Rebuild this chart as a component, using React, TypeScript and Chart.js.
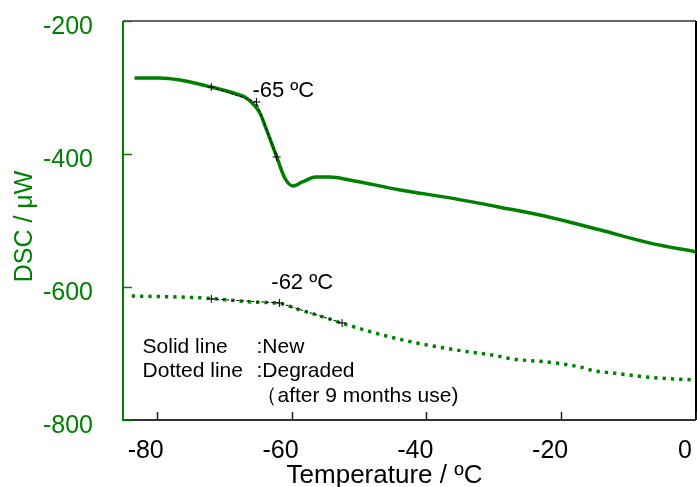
import React, { useEffect, useRef } from 'react';
import { Chart, registerables } from 'chart.js';

Chart.register(...registerables);

const GREEN = '#008000';
const FONT = '"Liberation Sans", Arial, sans-serif';

const xTicks = [-80, -60, -40, -20, 0];
const yTicks = [-800, -600, -400, -200];

// Solid line: New
const newTemps = [-83.3, -79.6, -76.6, -71.9, -67.7, -66.7, -64.7, -63.7, -62.2, -61.0, -59.8, -58.4, -56.4, -54.3, -51.4, -43.9, -36.5, -29.1, -21.7, -14.3, -6.8, 0];
const newDsc = [-285.7, -285.7, -288.7, -299.3, -311.3, -315.8, -338.3, -363.9, -404.5, -436.1, -448.1, -442.1, -434.6, -434.6, -439, -454, -466, -480, -495, -514, -534, -547];

// Dotted line: Degraded
const degTemps = [-83.7, -76.6, -72.2, -65.8, -61.5, -59.2, -56.2, -52.1, -46.5, -41.4, -35.5, -29.4, -27.2, -22.1, -17.2, -15.0, -12.3, -7.3, 0];
const degDsc = [-613.6, -615.1, -617, -622.6, -625.2, -633.1, -642.1, -655.7, -672.2, -684.2, -694.8, -703.8, -708.3, -712.8, -720.3, -726.3, -729.3, -735.4, -740];

// Onset tangent construction lines
const newTangentTemps = [-71.9, -65.2, -62.2];
const newTangentDsc = [-299.3, -321.8, -404.5];
const degTangentTemps = [-71.9, -61.8, -52.5];
const degTangentDsc = [-618, -624, -654.1];

// Text annotations (anchored in data coordinates)
const onsetTexts = ['-65 ºC', '-62 ºC'];
const onsetTemps = [-65.8, -63.0];
const onsetDsc = [-314, -603];

const legendKeys = ['Solid line', 'Dotted line', ''];
const legendValues = [':New', ':Degraded', '（after 9 months use)'];
const legendKeyTemp = -82.1;
const legendValueTemp = -65.2;
const legendDsc = [-699, -735, -773];

const xTitle = 'Temperature / ºC';
const yTitle = 'DSC / μW';

const pts = (xs: number[], ys: number[]) => xs.map((x, i) => ({ x, y: ys[i] }));

const zeroPad = (s: any) => {
  s.paddingTop = 0;
  s.paddingBottom = 0;
  s.paddingLeft = 0;
  s.paddingRight = 0;
};

const decorPlugin = {
  id: 'decor',
  afterDraw(chart: any) {
    const { ctx, chartArea: a, scales } = chart;
    const xs = scales.x;
    const ys = scales.y;
    ctx.save();
    // frame
    ctx.lineWidth = 2;
    ctx.strokeStyle = '#666';
    ctx.beginPath();
    ctx.moveTo(a.left, a.top);
    ctx.lineTo(a.right, a.top);
    ctx.stroke();
    ctx.strokeStyle = '#000';
    ctx.beginPath();
    ctx.moveTo(a.right, a.top);
    ctx.lineTo(a.right, a.bottom);
    ctx.stroke();
    ctx.strokeStyle = '#333';
    ctx.beginPath();
    ctx.moveTo(a.left, a.bottom);
    ctx.lineTo(a.right, a.bottom);
    ctx.stroke();
    ctx.strokeStyle = GREEN;
    ctx.beginPath();
    ctx.moveTo(a.left, a.top);
    ctx.lineTo(a.left, a.bottom + 1);
    ctx.stroke();
    // inward ticks
    ctx.lineWidth = 1.5;
    ctx.strokeStyle = '#222';
    xTicks.forEach((v) => {
      const px = Math.round(xs.getPixelForValue(v)) + 0.5;
      ctx.beginPath();
      ctx.moveTo(px, a.bottom);
      ctx.lineTo(px, a.bottom - 8);
      ctx.stroke();
    });
    ctx.strokeStyle = GREEN;
    yTicks.forEach((v) => {
      const py = Math.round(ys.getPixelForValue(v)) + 0.5;
      ctx.beginPath();
      ctx.moveTo(a.left, py);
      ctx.lineTo(a.left + 9, py);
      ctx.stroke();
    });
    // onset annotations
    ctx.fillStyle = '#000';
    ctx.textBaseline = 'alphabetic';
    ctx.textAlign = 'left';
    ctx.font = `22px ${FONT}`;
    onsetTexts.forEach((t, i) => {
      ctx.fillText(t, xs.getPixelForValue(onsetTemps[i]), ys.getPixelForValue(onsetDsc[i]));
    });
    // legend text
    ctx.font = `21px ${FONT}`;
    legendKeys.forEach((t, i) => {
      const py = ys.getPixelForValue(legendDsc[i]);
      if (t) ctx.fillText(t, xs.getPixelForValue(legendKeyTemp), py);
      ctx.fillText(legendValues[i], xs.getPixelForValue(legendValueTemp), py);
    });
    // axis titles
    ctx.font = `26px ${FONT}`;
    ctx.textAlign = 'center';
    ctx.fillText(xTitle, (a.left + a.right) / 2 - 25, 483);
    ctx.font = `25px ${FONT}`;
    ctx.fillStyle = GREEN;
    ctx.translate(32, (a.top + a.bottom) / 2 + 6);
    ctx.rotate(-Math.PI / 2);
    ctx.fillText(yTitle, 0, 0);
    ctx.restore();
  },
};

export default function App() {
  const ref = useRef<HTMLCanvasElement>(null);
  useEffect(() => {
    document.body.style.margin = '0';
    const canvas = ref.current!;
    const chart = new Chart(canvas, {
      type: 'line',
      data: {
        datasets: [
          {
            data: pts(newTangentTemps, newTangentDsc),
            borderColor: '#000',
            borderWidth: 1,
            borderDash: [3, 2],
            pointStyle: 'cross',
            pointRadius: 4,
            pointBorderWidth: 1,
            pointBorderColor: '#000',
            order: 0,
          },
          {
            data: pts(degTangentTemps, degTangentDsc),
            borderColor: '#000',
            borderWidth: 1,
            borderDash: [3, 2],
            pointStyle: 'cross',
            pointRadius: 4,
            pointBorderWidth: 1,
            pointBorderColor: '#000',
            order: 0,
          },
          {
            data: pts(newTemps, newDsc),
            borderColor: GREEN,
            borderWidth: 3.5,
            pointRadius: 0,
            cubicInterpolationMode: 'monotone',
            order: 1,
          },
          {
            data: pts(degTemps, degDsc),
            borderColor: GREEN,
            borderWidth: 3.5,
            borderDash: [3.3, 5],
            borderCapStyle: 'butt',
            pointRadius: 0,
            cubicInterpolationMode: 'monotone',
            order: 1,
          },
        ],
      },
      options: {
        animation: false,
        responsive: false,
        devicePixelRatio: 1,
        layout: { autoPadding: false, padding: { top: 21, right: 1, left: 0, bottom: 0 } },
        plugins: { legend: { display: false }, tooltip: { enabled: false } },
        font: { family: FONT },
        scales: {
          x: {
            type: 'linear',
            min: -85,
            max: 0,
            grid: { display: false, drawTicks: false },
            border: { display: false },
            afterBuildTicks: (s: any) => {
              s.ticks = xTicks.map((v) => ({ value: v }));
            },
            afterFit: (s: any) => {
              s.height = 67;
              zeroPad(s);
            },
            ticks: {
              color: '#000',
              font: { family: FONT, size: 25 },
              padding: 16,
              labelOffset: -11,
              maxRotation: 0,
              autoSkip: false,
            },
          },
          y: {
            type: 'linear',
            min: -800,
            max: -200,
            grid: { display: false, drawTicks: false },
            border: { display: false },
            afterBuildTicks: (s: any) => {
              s.ticks = yTicks.map((v) => ({ value: v }));
            },
            afterFit: (s: any) => {
              s.width = 123;
              zeroPad(s);
            },
            ticks: {
              color: GREEN,
              font: { family: FONT, size: 25 },
              padding: 30,
              labelOffset: 6,
              autoSkip: false,
            },
          },
        },
      } as any,
      plugins: [decorPlugin],
    });
    return () => chart.destroy();
  }, []);
  return (
    <div style={{ position: 'absolute', left: 0, top: 0, width: 697, height: 487 }}>
      <canvas ref={ref} width={697} height={487} />
    </div>
  );
}
